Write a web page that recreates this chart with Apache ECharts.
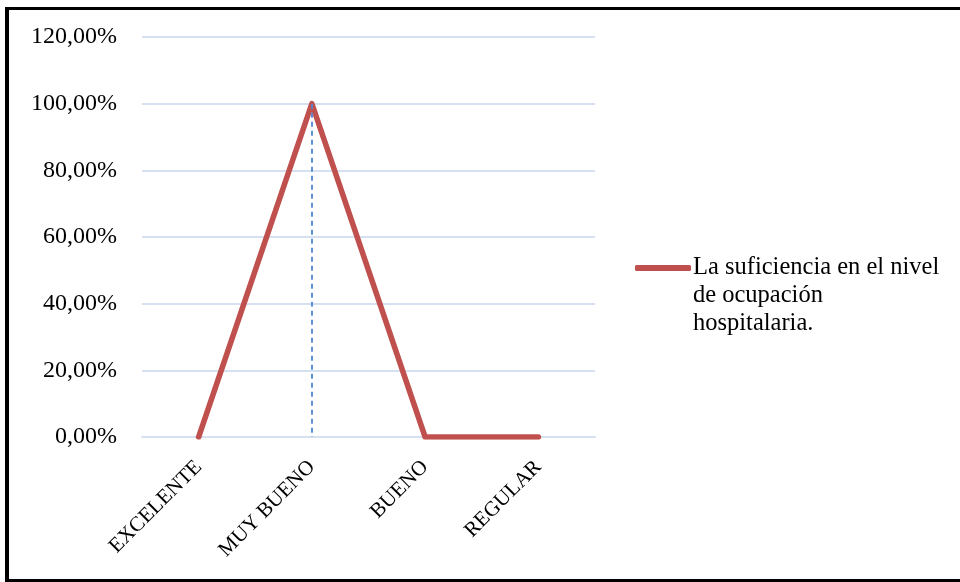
<!DOCTYPE html>
<html>
<head>
<meta charset="utf-8">
<script src="https://cdn.jsdelivr.net/npm/echarts@6/dist/echarts.min.js"></script>
<style>
  html, body { margin: 0; padding: 0; background: #fff; }
  #chart { width: 960px; height: 582px; }
</style>
</head>
<body>
<div id="chart"></div>
<script>
// Rating categories and the share of responses for each
const categories = ['EXCELENTE', 'MUY BUENO', 'BUENO', 'REGULAR'];
const values = [0, 100, 0, 0];
const seriesName = 'La suficiencia en el nivel\nde ocupación\nhospitalaria.';
const yTicks = { min: 0, max: 120, interval: 20 };

const FONT = 'Liberation Serif';
const RED = '#C0504D';

// Drop lines from each point down to the category axis
const dropLines = categories.map((c, i) => [
  { coord: [c, values[i]] },
  { coord: [c, 0] }
]);

const chart = echarts.init(document.getElementById('chart'), null, { renderer: 'canvas' });
chart.setOption({
  animation: false,
  backgroundColor: '#ffffff',
  grid: { left: 142, right: 365, top: 37, bottom: 145, containLabel: false },
  xAxis: {
    type: 'category',
    data: categories,
    boundaryGap: true,
    axisLine: { show: true, lineStyle: { color: '#D5E0F0', width: 2 } },
    axisTick: { show: false },
    axisLabel: {
      rotate: 45,
      margin: 27,
      color: '#000',
      fontFamily: FONT,
      fontSize: 21
    }
  },
  yAxis: {
    type: 'value',
    min: yTicks.min,
    max: yTicks.max,
    interval: yTicks.interval,
    axisLine: { show: false },
    axisTick: { show: false },
    splitLine: { lineStyle: { color: '#D5E0F0', width: 2 } },
    axisLabel: {
      margin: 25,
      color: '#000',
      fontFamily: FONT,
      fontSize: 24,
      formatter: v => v.toFixed(2).replace('.', ',') + '%'
    }
  },
  legend: {
    left: 635,
    top: 198,
    padding: 0,
    orient: 'vertical',
    icon: 'roundRect',
    itemWidth: 56,
    itemHeight: 6,
    itemGap: 0,
    itemStyle: { color: RED },
    // two leading blank lines keep the marker level with the first text line
    formatter: name => '\n\n' + name,
    textStyle: {
      color: '#000',
      fontFamily: FONT,
      fontSize: 24.5,
      lineHeight: 28,
      padding: [0, 0, 0, -3]
    },
    data: [seriesName]
  },
  series: [{
    name: seriesName,
    type: 'line',
    data: values,
    showSymbol: false,
    symbol: 'none',
    lineStyle: { color: RED, width: 5.5, cap: 'round', join: 'round' },
    itemStyle: { color: RED },
    z: 3,
    markLine: {
      silent: true,
      symbol: 'none',
      label: { show: false },
      z: 4,
      lineStyle: { color: '#4F86D4', width: 1.8, type: [5, 4] },
      data: dropLines
    }
  }],
  graphic: [
    { type: 'rect', shape: { x: 5, y: 7, width: 4, height: 575 }, style: { fill: '#000' } },
    { type: 'rect', shape: { x: 5, y: 7, width: 955, height: 3 }, style: { fill: '#000' } },
    { type: 'rect', shape: { x: 5, y: 579, width: 955, height: 3 }, style: { fill: '#000' } }
  ]
});
</script>
</body>
</html>
